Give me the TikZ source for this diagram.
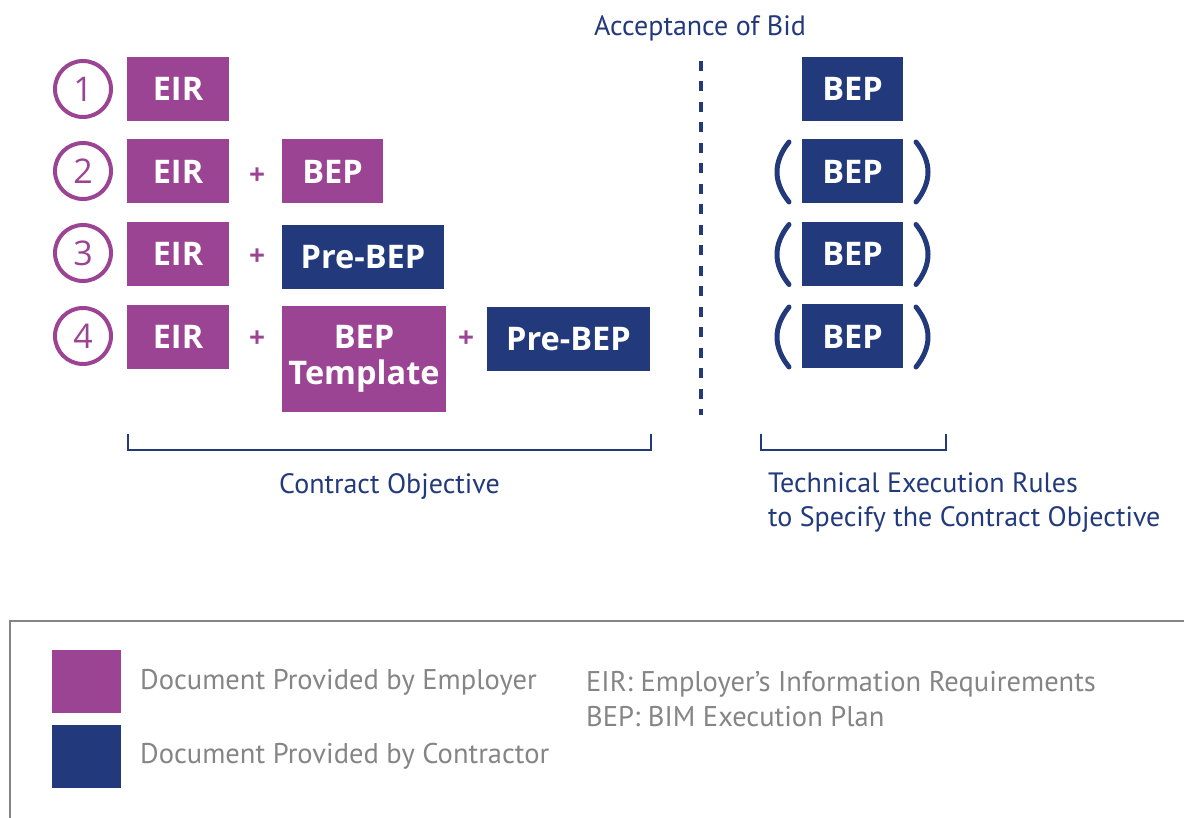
\documentclass[tikz,border=0pt]{standalone}
\usepackage{fontspec}
\setmainfont{PT Sans}
\newfontfamily\boxfont{Open Sans}
\usetikzlibrary{positioning,calc}

\definecolor{emplpurple}{HTML}{9C4494}
\definecolor{contrnavy}{HTML}{223A7C}
\definecolor{legendgray}{HTML}{858585}

\begin{document}
\begin{tikzpicture}[x=1pt,y=-1pt]
        \tikzstyle{employer} = [fill=emplpurple, text=white, inner sep=0pt, minimum height=64pt, font=\boxfont\bfseries\fontsize{32.5}{36}\selectfont]
        \tikzstyle{contractor} = [employer, fill=contrnavy]
        \tikzstyle{num} = [circle, draw=emplpurple, line width=4pt, minimum size=56pt, inner sep=0pt, text=emplpurple, font=\boxfont\fontsize{34}{34}\selectfont]
        \tikzstyle{plus} = [text=emplpurple, inner sep=0pt, font=\boxfont\bfseries\fontsize{28}{28}\selectfont]
        \tikzstyle{caption} = [text=contrnavy, inner sep=0pt, font=\fontsize{28}{34}\selectfont]
        \tikzstyle{legendtext} = [text=legendgray, inner sep=0pt, anchor=west, font=\fontsize{28.5}{35}\selectfont]
        \tikzstyle{paren} = [draw=contrnavy, line width=5pt, line cap=round]

        \useasboundingbox (0,0) rectangle (1184,818);

        % numbered cases
        \node[num] (n1) at (83,89) {1};
        \node[num] (n2) at (83,171) {2};
        \node[num] (n3) at (83,253) {3};
        \node[num] (n4) at (83,336) {4};

        % case 1
        \node[employer, minimum width=102pt] (eir1) at (178,89) {EIR};

        % case 2
        \node[employer, minimum width=102pt] (eir2) at (178,171.5) {EIR};
        \node[plus] (plus2) at (257,176) {+};
        \node[employer, minimum width=101pt] (bep2) at (332.5,171.5) {BEP};

        % case 3
        \node[employer, minimum width=102pt] (eir3) at (178,254) {EIR};
        \node[plus] (plus3) at (257,257) {+};
        \node[contractor, minimum width=162pt] (pre3) at (363,257) {Pre-BEP};

        % case 4
        \node[employer, minimum width=102pt] (eir4) at (178,337) {EIR};
        \node[plus] (plus4a) at (257,339) {+};
        \node[employer, minimum width=164pt, minimum height=106pt, align=center] (tmpl4) at (364,359) {BEP\\Template};
        \node[plus] (plus4b) at (466,339) {+};
        \node[contractor, minimum width=163pt] (pre4) at (568.5,339) {Pre-BEP};

        % acceptance of bid
        \node[caption] (bid) at (700,28) {Acceptance of Bid};
        \coordinate (bidend) at (701,415);
        \draw[draw=contrnavy, line width=3.5pt, dash pattern=on 10pt off 10.5pt] (701,61) -- (bidend);

        % execution plans after the bid
        \node[contractor, minimum width=101pt] (r1) at (852.5,89) {BEP};
        \node[contractor, minimum width=101pt] (r2) at (852.5,171.5) {BEP};
        \node[contractor, minimum width=101pt] (r3) at (852.5,254) {BEP};
        \node[contractor, minimum width=101pt] (r4) at (852.5,336.5) {BEP};

        % brackets round the optional plans
        \draw[paren] (789,142) .. controls (773,162) and (773,182) .. (789,202);
        \draw[paren] (916,142) .. controls (932,162) and (932,182) .. (916,202);
        \draw[paren] (789,224.5) .. controls (773,244.5) and (773,264.5) .. (789,284.5);
        \draw[paren] (916,224.5) .. controls (932,244.5) and (932,264.5) .. (916,284.5);
        \draw[paren] (789,307) .. controls (773,327) and (773,347) .. (789,367);
        \draw[paren] (916,307) .. controls (932,327) and (932,347) .. (916,367);

        % contract objective
        \draw[draw=contrnavy, line width=2.5pt] (128,434) |- (651,450) -- (651,434);
        \node[caption] (obj) at (389.5,486) {Contract Objective};

        % technical execution rules
        \draw[draw=contrnavy, line width=2.5pt] (761,434) |- (946,450) -- (946,434);
        \node[caption, anchor=west, align=left] (rules) at (768,503) {Technical Execution Rules\\to Specify the Contract Objective};

        % legend
        \draw[draw=legendgray, line width=2.5pt] (10,830) |- (1190,621);
        \fill[emplpurple] (52,650) rectangle (121,713);
        \fill[contrnavy] (52,725) rectangle (121,788);
        \node[legendtext] (lemp) at (140,682) {Document Provided by Employer};
        \node[legendtext] (lcon) at (140,756) {Document Provided by Contractor};
        \node[legendtext, align=left] (labbr) at (586,699.5) {EIR: Employer’s Information Requirements\\BEP: BIM Execution Plan};
\end{tikzpicture}
\end{document}
